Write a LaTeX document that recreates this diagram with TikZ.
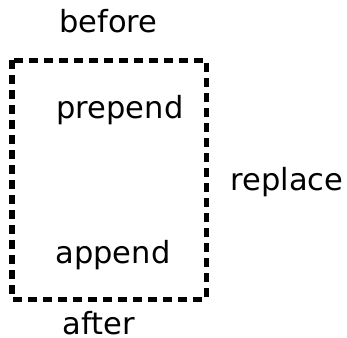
\documentclass[tikz,border=0pt]{standalone}
\usepackage{fontspec}
\setmainfont{DejaVu Sans}
\begin{document}
\begin{tikzpicture}[x=1bp,y=-1bp,
  lbl/.style={anchor=base,inner sep=0pt,font=\fontsize{30.5bp}{36bp}\selectfont},
  region/.style={draw=black,line width=5bp,dash pattern=on 9bp off 6bp}]
  \useasboundingbox (0,0) rectangle (347,338);
  \coordinate (nw) at (12,60);
  \coordinate (se) at (206,299);
  \draw[region] (nw) rectangle (se);
  \node[lbl] (before) at (108.5,32) {before};
  \node[lbl] (prepend) at (120,118) {prepend};
  \node[lbl] (replace) at (287,190) {replace};
  \node[lbl] (append) at (113,263) {append};
  \node[lbl] (after) at (99,334) {after};
\end{tikzpicture}
\end{document}
